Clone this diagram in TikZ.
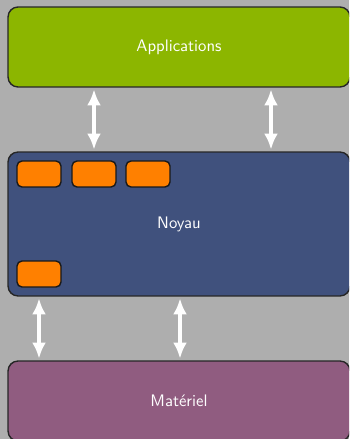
\documentclass[tikz,border=0pt]{standalone}
\usetikzlibrary{arrows.meta}
\renewcommand{\familydefault}{\sfdefault}

\definecolor{fondgris}{RGB}{174,174,174}
\definecolor{vertapp}{RGB}{140,182,0}
\definecolor{bleunoyau}{RGB}{64,81,125}
\definecolor{violetmat}{RGB}{144,92,128}
\definecolor{orangemod}{RGB}{255,128,0}

\begin{document}
\begin{tikzpicture}[x=0.02cm,y=-0.02cm,
   couche/.style={draw=black!85,line width=0.8pt,rounded corners=2mm,
      minimum width=6.84cm,inner sep=0pt,text=white,
      font=\fontsize{9.5}{11}\selectfont},
   module/.style={draw=black!90,line width=0.8pt,rounded corners=1mm,
      fill=orangemod,minimum width=0.88cm,minimum height=0.52cm,inner sep=0pt},
   dblfleche/.style={white,line width=0.8mm,
      {Latex[length=3.2mm,width=2.8mm]}-{Latex[length=3.2mm,width=2.8mm]},
      shorten >=1pt,shorten <=1pt}]
   \useasboundingbox (0,0) rectangle (349,439);
   \fill[fondgris] (0,0) rectangle (349,439);
   \clip (0,0) rectangle (349,439);
   % couches
   \node[couche,fill=vertapp,minimum height=1.6cm] (app) at (179,47) {Applications};
   \node[couche,fill=bleunoyau,minimum height=2.88cm] (noyau) at (179,224) {Noyau};
   \node[couche,fill=violetmat,minimum height=1.6cm] (mat) at (179,401) {Mat\'eriel};
   % modules du noyau
   \node[module] (m1) at (39,174) {};
   \node[module] (m2) at (94,174) {};
   \node[module] (m3) at (148,174) {};
   \node[module] (m4) at (39,274) {};
   % liaisons
   \coordinate (h1) at (94,0);
   \coordinate (h2) at (271,0);
   \coordinate (b1) at (39,0);
   \coordinate (b2) at (180,0);
   \draw[dblfleche] (app.south -| h1) -- (noyau.north -| h1);
   \draw[dblfleche] (app.south -| h2) -- (noyau.north -| h2);
   \draw[dblfleche] (noyau.south -| b1) -- (mat.north -| b1);
   \draw[dblfleche] (noyau.south -| b2) -- (mat.north -| b2);
\end{tikzpicture}
\end{document}
